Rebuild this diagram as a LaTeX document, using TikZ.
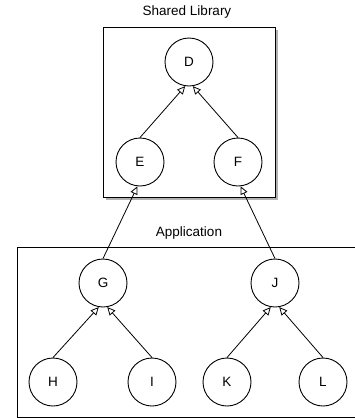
\documentclass[tikz,border=0pt]{standalone}
\usepackage{fontspec}
\setmainfont{Liberation Sans}
\usetikzlibrary{arrows.meta}
\begin{document}
\begin{tikzpicture}[x=1pt,y=-1pt,
  vnode/.style={circle, draw, line width=0.9pt, minimum size=48pt, inner sep=0pt, font=\fontsize{13.5}{15}\selectfont},
  grp/.style={draw, line width=0.9pt},
  shadowbox/.style={fill=black!30, draw=none},
  dep/.style={line width=0.8pt, -{Triangle[open, length=8pt, width=7.5pt, fill=white]}},
  title/.style={font=\fontsize{13.5}{15}\selectfont}]
\useasboundingbox (0,0) rectangle (355,418);
\clip (0,0) rectangle (355,418);
% group boxes
\fill[shadowbox] (106,30) rectangle (278,200);
\draw[grp, fill=white] (103,27) rectangle (275,197);
\draw[grp, fill=white] (17,247) rectangle (360,417);
\node[title] (tlib) at (187,12) {Shared Library};
\node[title] (tapp) at (189,233) {Application};
% nodes
\node[vnode] (D) at (189,62) {D};
\node[vnode] (E) at (140,162) {E};
\node[vnode] (F) at (238,162) {F};
\node[vnode] (G) at (103,283) {G};
\node[vnode] (J) at (275,283) {J};
\node[vnode] (H) at (53,382) {H};
\node[vnode] (I) at (152,382) {I};
\node[vnode] (K) at (227,382) {K};
\node[vnode] (L) at (323,382) {L};
% edges
\draw[dep] (E.north) -- (D.-99);
\draw[dep] (F.north) -- (D.-81);
\draw[dep] (G.north) -- (E.-96);
\draw[dep] (J.north) -- (F.-84);
\draw[dep] (H.north) -- (G.-100);
\draw[dep] (I.north) -- (G.-80);
\draw[dep] (K.north) -- (J.-100);
\draw[dep] (L.north) -- (J.-80);
\end{tikzpicture}
\end{document}
